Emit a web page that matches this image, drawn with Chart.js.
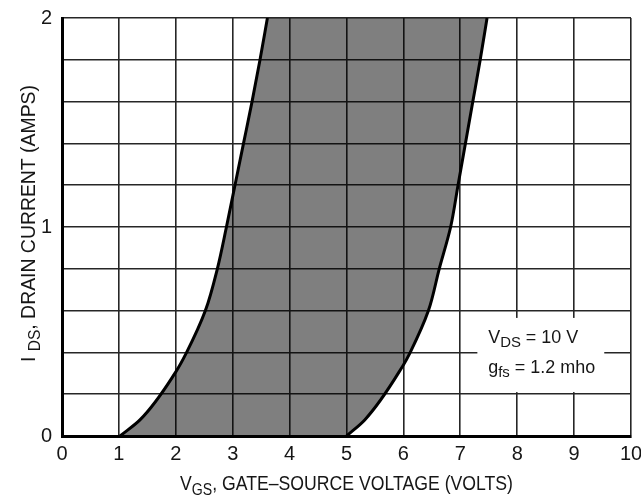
<!DOCTYPE html>
<html>
<head>
<meta charset="utf-8">
<script src="https://cdn.jsdelivr.net/npm/chart.js@4.4.0/dist/chart.umd.min.js"></script>
<style>
html,body{margin:0;padding:0;background:#fff;}
#wrap{width:641px;height:499px;position:relative;}
</style>
</head>
<body>
<div id="wrap"><canvas id="c"></canvas></div>
<script>
// Data
const lowerCurveI = [0, 0.077, 0.307, 0.4, 0.6, 0.8, 1.0, 1.2, 1.4, 1.6, 1.8, 2.0];
const lowerCurveV = [1.02, 1.37, 2.0, 2.19, 2.52, 2.73, 2.89, 3.04, 3.19, 3.34, 3.48, 3.61];
const upperCurveI = [0, 0.077, 0.34, 0.4, 0.6, 0.8, 1.0, 1.2, 1.4, 1.6, 1.8, 2.0];
const upperCurveV = [5.0, 5.32, 6.0, 6.12, 6.44, 6.63, 6.83, 6.96, 7.09, 7.22, 7.35, 7.47];
const xTickLabels = ['0','1','2','3','4','5','6','7','8','9','10'];
const yTickLabels = {0:'0', 1:'1', 2:'2'};

const FONT = "'Liberation Sans Narrow', 'Liberation Sans', Arial, sans-serif";
const TXT = '#161616';

function richWidth(ctx, parts, size, subSize) {
  let w = 0;
  for (const p of parts) {
    ctx.font = (p.sub ? subSize : size) + 'px ' + FONT;
    w += ctx.measureText(p.t).width;
  }
  return w;
}
function drawRich(ctx, parts, x, y, size, subSize, subDy, targetW) {
  const w = richWidth(ctx, parts, size, subSize);
  const sx = targetW ? targetW / w : 1;
  ctx.save();
  ctx.translate(x, y);
  ctx.scale(sx, 1);
  ctx.fillStyle = TXT;
  ctx.textBaseline = 'alphabetic';
  ctx.textAlign = 'left';
  let cx = 0;
  for (const p of parts) {
    ctx.font = (p.sub ? subSize : size) + 'px ' + FONT;
    ctx.fillText(p.t, cx, p.sub ? subDy : 0);
    cx += ctx.measureText(p.t).width;
  }
  ctx.restore();
}

const textPlugin = {
  id: 'textPlugin',
  afterDatasetsDraw(chart) {
    const ctx = chart.ctx;
    const xs = chart.scales.x, ys = chart.scales.y;
    // annotation white box
    const bx1 = xs.getPixelForValue(7.3), bx2 = xs.getPixelForValue(9.53);
    const by1 = ys.getPixelForValue(0.565), by2 = ys.getPixelForValue(0.21);
    ctx.save();
    ctx.fillStyle = '#fff';
    ctx.fillRect(bx1, by1, bx2 - bx1, by2 - by1);
    ctx.restore();
    const tx = xs.getPixelForValue(7.49);
    drawRich(ctx, [{t:'V'},{t:'DS',sub:true},{t:' = 10 V'}], tx, ys.getPixelForValue(0.445), 18, 15, 4, 90);
    drawRich(ctx, [{t:'g'},{t:'fs',sub:true},{t:' = 1.2 mho'}], tx, ys.getPixelForValue(0.302), 18, 15, 4, 107);
  },
  afterDraw(chart) {
    const ctx = chart.ctx;
    // x axis title
    drawRich(ctx, [{t:'V'},{t:'GS',sub:true},{t:', GATE–SOURCE VOLTAGE (VOLTS)'}], 180, 490, 20, 16, 5, 333);
    // y axis title (rotated)
    ctx.save();
    ctx.translate(35, 362);
    ctx.rotate(-Math.PI / 2);
    drawRich(ctx, [{t:'I '},{t:'DS',sub:true},{t:', DRAIN CURRENT (AMPS)'}], 0, 0, 20, 16, 5, 277);
    ctx.restore();
  }
};

const lowerData = lowerCurveI.map((y, i) => ({x: lowerCurveV[i], y}));
const upperData = upperCurveI.map((y, i) => ({x: upperCurveV[i], y}));

new Chart(document.getElementById('c'), {
  type: 'line',
  data: {
    datasets: [
      {data: lowerData, borderColor: '#000', borderWidth: 3, pointRadius: 0, fill: false, cubicInterpolationMode: 'monotone'},
      {data: upperData, borderColor: '#000', borderWidth: 3, pointRadius: 0, fill: '-1', backgroundColor: 'rgba(0,0,0,0.5)', cubicInterpolationMode: 'monotone'}
    ]
  },
  options: {
    indexAxis: 'y',
    responsive: true,
    maintainAspectRatio: false,
    animation: false,
    events: [],
    layout: {padding: {left: 0, top: 18, right: 10, bottom: 0}},
    plugins: {
      legend: {display: false},
      tooltip: {enabled: false}
    },
    scales: {
      x: {
        type: 'linear', min: 0, max: 10,
        afterFit(s) { s.height = 63; s.paddingRight = 0; s.paddingLeft = 0; },
        grid: {color: '#262626', lineWidth: 1.6, drawTicks: false},
        border: {color: '#000', width: 3},
        ticks: {
          stepSize: 1, padding: 6, color: TXT, maxRotation: 0,
          font: {family: FONT, size: 20},
          callback: (v) => xTickLabels[Math.round(v)] ?? ''
        }
      },
      y: {
        type: 'linear', min: 0, max: 2,
        afterFit(s) { s.width = 62; s.paddingTop = 0; s.paddingBottom = 0; },
        grid: {color: '#262626', lineWidth: 1.6, drawTicks: false},
        border: {color: '#000', width: 3},
        ticks: {
          stepSize: 0.2, padding: 10, color: TXT,
          font: {family: FONT, size: 20},
          callback: (v) => {
            const r = Math.round(v);
            return Math.abs(v - r) < 1e-6 ? (yTickLabels[r] ?? '') : '';
          }
        }
      }
    }
  },
  plugins: [textPlugin]
});
</script>
</body>
</html>
